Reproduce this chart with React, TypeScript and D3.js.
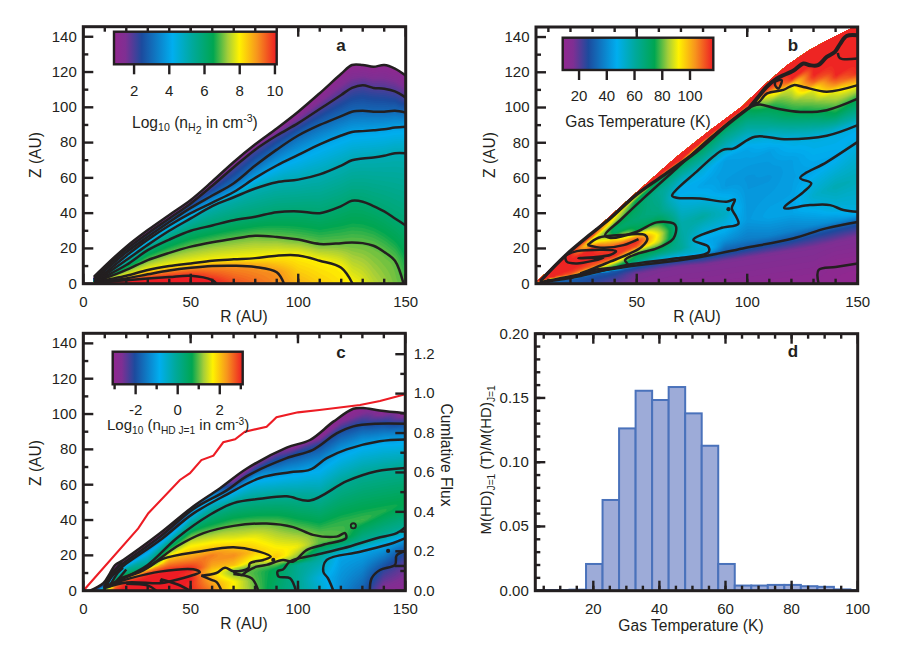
import { useEffect, useRef } from "react"
import * as d3 from "d3"

type Knot = [number, number]

const rainbowStops = [0, 0.07, 0.17, 0.36, 0.48, 0.61, 0.7, 0.77, 0.88, 1]
const rainbowColors = ["#92278f", "#7f2f93", "#1c4b9e", "#00aeef", "#00a99d", "#00a651", "#a6ce39", "#fff200", "#f7941d", "#ed1c24"]

// panel a: contour heights Z per radius, one row per level (null = contour has hit the midplane)
const aRadii = [5, 10, 20, 30, 40, 50, 60, 70, 80, 90, 100, 110, 120, 125, 130, 135, 140, 145, 150]
const aLevels = [1, 2, 3, 4, 5, 6, 7, 8, 9, 10]
const aHeights: (number | null)[][] = [
  [4, 10, 21, 30.4, 39, 47.5, 58, 69, 79, 88, 97.5, 108, 119, 124, 124, 123, 124, 122, 118],
  [3.5, 9, 19.5, 28.5, 37, 45.5, 55.5, 66, 76, 84, 91, 99, 107, 111, 112.5, 111, 110.5, 109, 105.5],
  [2.6, 7.5, 17.8, 26.6, 35, 43, 50, 57, 67, 76, 84, 90, 95, 97.5, 98, 97.5, 97.5, 98, 97],
  [1.8, 6, 15.9, 25, 33, 40, 46, 52, 60, 67, 73, 79, 84, 86, 86.5, 87, 87.5, 88.5, 89],
  [1.3, 5, 13.4, 22, 30, 37, 44, 49, 54, 57.5, 59, 62, 67, 70, 71, 71.5, 72.5, 74, 74],
  [1, 4, 10.6, 19, 25, 30, 33, 36, 38, 40.5, 41, 40, 44, 47, 46.5, 44, 41, 37, 33],
  [0.8, 3, 7.8, 13.4, 17.5, 21, 23.5, 25.5, 27.2, 26.5, 25, 22.5, 23, 23.4, 23, 21.5, 18, 13, null],
  [0.5, 2, 4.5, 7.8, 10, 11.5, 13, 13.8, 14.5, 15.9, 16, 13, 9, null, null, null, null, null, null],
  [0.4, 1.5, 3, 5.3, 7.5, 9, 10, 10.2, 9.5, 6.5, null, null, null, null, null, null, null, null, null],
  [0.2, 0.8, 2, 3, 3.8, 4.5, 2, null, null, null, null, null, null, null, null, null, null, null, null],
]
const aEndRadii = [null, null, null, null, null, null, 149, 125.3, 93.4, 62]
const aMidplane = [10, 10.6, 10.8, 10.8, 10.7, 10.6, 10.2, 9.7, 9.4, 9.1, 8.7, 8.4, 8.15, 8, 7.8, 7.5, 7.3, 7.1, 6.95]

// panel b: temperature profiles, [Z, T] per radius
const bRadii = [5, 10, 20, 30, 40, 50, 60, 70, 80, 90, 100, 110, 120, 130, 140, 150]
const bProfiles: Knot[][] = [
  [[0, 36], [1, 116], [5, 116]],
  [[0, 38], [1.5, 30], [2, 70], [3, 116], [12, 116]],
  [[0, 30], [3, 30], [3.5, 60], [4, 90], [5, 110], [8, 116], [22, 116]],
  [[0, 24], [5.5, 30], [6, 50], [7, 80], [8, 92], [10, 110], [14, 116], [20, 116], [22, 100], [24, 90], [26, 95], [27, 110], [29, 116], [34, 116]],
  [[0, 18], [7.4, 30], [8, 50], [9, 72], [11.5, 85], [13, 100], [16, 116], [21, 112], [25, 95], [27.6, 76], [30, 70], [33, 75], [36, 88], [38, 92], [39, 100], [40, 116], [46, 116]],
  [[0, 15], [6, 17], [10, 30], [11, 50], [13, 68], [17, 75], [19, 90], [21, 110], [24, 116], [27, 100], [29.5, 75], [36, 68], [45, 72], [48, 75], [50, 90], [51, 116], [60, 116]],
  [[0, 14], [8, 16], [12.5, 30], [13.5, 50], [17, 65], [20, 75], [24, 88], [28, 90], [35, 75], [40, 66], [52, 62], [59, 72], [60, 90], [61, 116], [72, 116]],
  [[0, 13], [10, 16], [14, 30], [15.5, 50], [20, 62], [27, 60], [35, 58], [48, 50], [52, 46], [56, 50], [65, 65], [68, 75], [69, 92], [70, 116], [84, 116]],
  [[0, 12.5], [11, 16], [15.5, 30], [17.5, 50], [19.5, 54], [21, 50], [24, 46], [28.5, 50], [38, 60], [48, 50], [56, 45], [64, 50], [75, 68], [79, 75], [80, 92], [81, 116], [95, 116]],
  [[0, 12], [13, 16], [18, 30], [25, 42], [33, 50], [40, 55], [46.5, 50], [55, 43], [70, 44], [74, 50], [85, 65], [89, 74], [90, 95], [91, 116], [105, 116]],
  [[0, 11.5], [15, 16], [20.5, 30], [25, 37], [36, 43], [60, 42], [76, 45], [81, 50], [90, 62], [99, 74], [100, 100], [101, 116], [116, 116]],
  [[0, 11], [17, 16], [23, 30], [27, 38], [38, 45], [60, 42], [75, 44], [82.5, 50], [90, 62], [100, 75], [107, 90], [109, 105], [112, 116], [128, 116]],
  [[0, 10.5], [19, 16], [25.5, 30], [30, 38], [40, 45], [55, 44], [70, 44], [82, 50], [97.5, 75], [112, 90], [116, 116], [140, 116]],
  [[0, 10], [21, 16], [29, 30], [33, 40], [44.5, 50], [50, 53], [57, 50], [65, 45], [83, 50], [97.5, 75], [110, 90], [114, 108], [118, 116], [150, 116]],
  [[0, 9.5], [10, 10], [24, 16], [32, 30], [35, 40], [42, 50], [55, 57], [66, 50], [72, 46], [86, 50], [97, 75], [109, 90], [113, 105], [118, 116], [150, 116]],
  [[0, 9], [11.5, 10], [27, 16], [35, 30], [39, 45], [41, 50], [60, 56], [80.5, 50], [85, 47], [90, 50], [95, 60], [105, 75], [112.7, 92], [116, 105], [120, 116], [150, 116]],
]
const bEdge: Knot[] = [[4.4, 0], [4.4, 1], [15.3, 13.4], [26.6, 25.7], [50, 52], [68, 72], [83, 87], [98, 101], [107, 112], [118, 124], [128, 132.5], [136, 138], [148, 145.6], [150, 146]]
const bLines: Knot[][] = [
  [[6, 0.7], [27.4, 5.9], [45.5, 9.6], [75.6, 14.4], [98, 20], [120.7, 25.7], [135.7, 31.4], [150, 35]],
  [[132.3, 0], [132.3, 7.8], [140, 9.5], [150, 11.5]],
  [[150, 90], [136, 84], [118, 82], [103.5, 83.4], [93.7, 76.7], [89, 76], [77, 63.5], [66, 50], [68, 48.8], [78.6, 48.4], [90.7, 46.5], [94.4, 47.8], [93, 42.7], [95, 38], [96, 34], [87.7, 31.4], [75.6, 24.8], [82.4, 21], [82.4, 17.8], [68, 14.4], [45.5, 10.6], [22.8, 4], [8, 1]],
  [[150, 80.5], [136, 69], [124, 60], [129, 57], [125.4, 52], [116.7, 43], [128.4, 44.6], [137.5, 44.6], [143.5, 41.8], [150, 40.8]],
  [[150, 105], [136, 98.5], [124, 97.5], [113.3, 99.4], [105.8, 101.7], [102.8, 101], [98, 97.5], [83, 82.4], [68, 65.4], [53, 48.4], [42.5, 36], [35.7, 27.6], [38, 26], [50, 29.5], [59, 34.8], [66.6, 34.2], [67.8, 32.3], [66.6, 25.7], [59, 20], [50.7, 17.2], [44.7, 13.4], [46, 10.6], [30.4, 7.8], [19.8, 3]],
  [[150, 112.7], [136, 109], [125.4, 111.7], [121, 112.7], [116.4, 110], [109, 108], [105, 102.8], [102.8, 102]],
  [[27.7, 21.9], [32.7, 26.1], [42.5, 27.6], [53.8, 27.6], [54.8, 25.3], [52.3, 21], [47, 17.2], [37.9, 12.5], [30.4, 8.7], [24.4, 5.9]],
  [[27.7, 21.9], [34.9, 20.4], [44, 21.9], [50.8, 25.3]],
  [[17.6, 15.9], [22.9, 18.5], [40.6, 18.5], [37.9, 16.3], [23.6, 14.4], [34.9, 14.7], [22.9, 11.5], [18.3, 12.5], [17.6, 15.9]],
  [[112.6, 114.6], [114.1, 115.5], [115.6, 115.5], [114.1, 110.8], [112.6, 112.7], [112.6, 114.6]],
  [[141, 131], [142, 128], [150, 127.8]],
]
const bThickUpper: Knot[] = [[150, 141], [145, 140.6], [142, 136], [139.7, 131.6], [136, 128.7], [132, 124], [128.4, 124], [125.4, 125], [121, 121], [113.3, 116.4], [108.8, 111.7], [105, 106], [101.3, 100.4]]
const bThickLower: Knot[] = [[101.3, 100.4], [90.7, 90], [77, 75], [65, 64], [50, 50.7], [37.9, 37], [27.7, 26.7], [17.6, 15.9], [6.3, 1.5]]
const bDots: Knot[] = [[91.5, 42.3]]

// panel c: log density profiles, [Z, value] per radius
const cRadii = [5, 10, 15, 20, 30, 40, 50, 60, 70, 80, 90, 100, 110, 120, 130, 140, 150]
const cProfiles: Knot[][] = [
  [[0, -3], [2, -3]],
  [[0, 2], [2, -1], [5, -3], [10, -3]],
  [[0, 3], [3, 2.5], [5, 1.5], [6, 0.5], [8, 0], [10, -2], [15, -3], [20, -3]],
  [[0, 3.3], [4.7, 3], [7.5, 2], [8.5, 1], [9.3, 0.5], [12, 0], [14.5, -1], [16.5, -2], [18, -3], [24, -3]],
  [[0, 3.3], [9.5, 3], [12, 2], [12.5, 1], [14.6, 0], [19, -0.5], [22, -1], [24.5, -2], [26, -3], [36, -3]],
  [[0, 3.3], [11, 3.1], [18.4, 2], [22.5, 1], [27, 0], [31.5, -1], [33.5, -2], [35.4, -3], [46, -3]],
  [[0, 3], [4, 3], [7, 3.1], [9.8, 2.9], [12, 3.1], [16, 2.6], [21.6, 2], [27, 1.5], [31, 1], [37.5, 0], [43.5, -1], [46, -2], [47.5, -3], [60, -3]],
  [[0, 2.5], [5, 2.2], [8, 2], [11, 1.9], [14, 2.2], [20, 2.5], [24, 2], [29, 1.5], [34, 1], [45, 0], [53, -1], [56, -2], [60, -3], [70, -3]],
  [[0, 1.65], [5, 1.7], [9, 1.2], [11, 1], [13, 1.5], [14, 2], [20, 2.4], [24.6, 2], [30, 1.5], [37, 1], [49.6, 0], [56.5, -1], [59, -2], [64, -3], [74, -3]],
  [[0, 1.05], [10, 0.9], [13.5, 1], [17, 1.5], [22, 2], [30, 1.6], [38, 1], [52, 0], [63.5, -1], [68, -2], [73, -3], [84, -3]],
  [[0, 0.4], [12, 0.6], [15, 1], [19, 2], [22, 1.8], [38, 1], [53, 0], [65, -1], [74, -2], [80, -3], [92, -3]],
  [[0, -0.05], [15, 0], [17.5, 1], [25, 1.6], [35, 1], [42, 0.6], [53, 0], [67, -1], [78, -2], [83, -3], [96, -3]],
  [[0, -0.5], [7, -0.7], [20.5, 0], [27, 1], [32, 1], [40, 0.6], [52, 0], [70, -1], [82, -2], [88, -3], [100, -3]],
  [[0, -1.3], [19, -1], [24.5, 0], [30, 1], [40, 0.8], [60, 0], [78, -1], [90, -2], [98, -3], [110, -3]],
  [[0, -1.8], [22, -1], [28, 0], [40, 0.9], [65, 0], [83, -1], [94, -2], [103.4, -3], [116, -3]],
  [[0, -2.8], [11, -2.2], [25, -1], [32, 0], [45, 0.8], [67.5, 0], [85, -1], [94.5, -2], [102, -3], [116, -3]],
  [[0, -2.9], [14, -2.5], [22.5, -2], [29.7, -1], [36, 0], [50, 0.7], [69.5, 0], [85.6, -1], [94.5, -2], [100.5, -3], [116, -3]],
]
const cEdge: Knot[] = [[3.1, 0], [9.3, 4.2], [12.4, 9.8], [14.8, 14.5], [18.6, 17.4], [35.7, 32.5], [51, 47.5], [63.7, 58], [76, 69], [94.7, 81], [105.6, 85.3], [116.5, 95.7], [125.8, 103], [130.4, 103.4], [138, 102], [150, 100.5]]
const cLines: Knot[][] = [
  cEdge,
  [[150, 94.5], [136.6, 94.5], [125.8, 93], [118, 89], [107, 79.7], [94.7, 75], [76, 64.7], [66.8, 56.8], [51, 46], [35.7, 30.5], [18.6, 15.5], [14, 11], [10, 4]],
  [[150, 85.6], [138, 84.6], [122.7, 80], [113.4, 75], [105.6, 68.5], [96.3, 67], [82.3, 63.8], [66.8, 54.4], [51, 43.5], [35.7, 28.5], [18.6, 14], [14, 9], [10, 3]],
  [[150, 69.5], [136.6, 67.6], [122.7, 62], [105.6, 51], [94.7, 53.4], [82.3, 52], [70, 49.6], [59, 43], [43.5, 29.7], [30, 14.6], [18.6, 7], [13, 4]],
  [[10.5, 2], [15, 12], [18, 16]],
  [[12, 2], [16, 10], [18.5, 13]],
  [[14, 3.5], [18, 9], [20, 12]],
  [[17, 7], [29.5, 13], [43.5, 25], [56, 32.6], [70, 36.7], [85.4, 38], [97.8, 36], [107, 31.6], [118, 30.6], [121.9, 32.6], [122.4, 29.7], [111.8, 26], [104, 23], [97.8, 16.5], [93, 17.4], [85.4, 14.6], [80.7, 13.6], [76, 10.8], [73.8, 8.9], [69.9, 10.8]],
  [[69.9, 9.5], [78.4, 7], [81.5, 0]],
  [[17, 6.5], [28, 11.5], [37, 18], [54.3, 22.2], [70, 24.6], [82.3, 22], [87.3, 19.3], [83.9, 17.4], [77.6, 15.5], [76.9, 12.7], [70, 11], [66, 13], [62, 10], [55, 8.5]],
  [[55, 8.5], [60, 6], [62, 5], [64.4, 0]],
  [[9.3, 2.3], [21.7, 7], [35.7, 10.8], [51.2, 12.1], [54.3, 10.4], [51.2, 8.9], [41.1, 5.5], [35.7, 4.2], [20.2, 4.7], [9.3, 1.3]],
  [[20, 4], [30, 3], [34, 0]],
  [[36, 6.5], [44, 3.5], [49.7, 0]],
  [[150, 36], [146, 32.6], [136.6, 29.7], [121, 24], [107, 20], [96.3, 16.5], [93, 12], [90.5, 11], [91, 8], [96.3, 7], [99, 0]],
  [[150, 29.7], [144.4, 27], [129, 22], [113.4, 17.4], [111.8, 10.8], [114, 7], [116.5, 0]],
  [[150, 22.5], [146, 20], [145.2, 14.6], [138.2, 11.7], [134.3, 7], [133.5, 0]],
  [[145, 14], [150, 14]],
]
const cDots: Knot[] = [[88.5, 17.4], [142, 22.5], [36.5, 5.5]]
const cRing: Knot = [125.8, 36.7]

// cumulative flux curve in panel c
const fluxRadii = [0, 25.6, 30.3, 45, 49.7, 55, 60.6, 65.2, 70.7, 75.3, 85.4, 90, 100, 110, 128.9, 138.2, 150]
const fluxValues = [0, 0.316, 0.393, 0.562, 0.596, 0.663, 0.685, 0.753, 0.768, 0.807, 0.832, 0.88, 0.905, 0.917, 0.942, 0.962, 0.997]

// panel d histogram
const binStarts = [2.8, 7.8, 12.8, 17.8, 22.8, 27.8, 32.8, 37.8, 42.8, 47.8, 52.8, 57.8, 62.8, 67.8, 72.8, 77.8, 82.8, 87.8, 92.8, 97.8]
const binValues = [0.0005, 0.0005, 0.0008, 0.0208, 0.0706, 0.1263, 0.1556, 0.1484, 0.1585, 0.138, 0.1128, 0.0208, 0.004, 0.004, 0.0045, 0.0045, 0.0035, 0.003, 0.001, 0.0005]

const FONT = "'Liberation Sans', Arial, sans-serif"
const INK = "#231f20"
const FS = 15
const LABEL_FS = 15.6

const range = (a: number, b: number, step: number) => d3.range(a, b + step / 1000, step)
const plain = (v: any) => String(v)

function colorScale(domain: [number, number]) {
  const span = domain[1] - domain[0]
  return d3
    .scaleLinear<string>()
    .domain(rainbowStops.map((s) => domain[0] + s * span))
    .range(rainbowColors)
    .clamp(true)
}

function makeField(radii: number[], profiles: Knot[][]) {
  const scales = profiles.map((p) =>
    d3
      .scaleLinear()
      .domain(p.map((k) => k[0]))
      .range(p.map((k) => k[1]))
      .clamp(true),
  )
  // columns are blended along rays Z/R so the wedge structure stays sharp near the star
  return (r: number, z: number) => {
    const rr = Math.max(r, 0.5)
    const t = z / rr
    if (rr <= radii[0]) return scales[0](t * radii[0])
    const i = Math.min(d3.bisectRight(radii, rr) - 1, radii.length - 2)
    const f = (rr - radii[i]) / (radii[i + 1] - radii[i])
    return scales[i](t * radii[i]) * (1 - f) + scales[i + 1](t * radii[i + 1]) * f
  }
}

function drawField(
  g: any,
  id: string,
  x: d3.ScaleLinear<number, number>,
  y: d3.ScaleLinear<number, number>,
  field: (r: number, z: number) => number,
  domain: [number, number],
  edge: Knot[],
) {
  const step = 2
  const [x0, x1] = x.range()
  const [y1, y0] = y.range()
  const n = Math.ceil((x1 - x0) / step) + 2
  const m = Math.ceil((y1 - y0) / step) + 2
  const values = new Array(n * m)
  for (let j = 0; j < m; j++) {
    for (let i = 0; i < n; i++) {
      values[j * n + i] = field(x.invert(x0 + i * step), y.invert(y0 + j * step))
    }
  }
  const color = colorScale(domain)
  const count = 110
  const levels = d3.range(0, count).map((k) => domain[0] + ((k + 0.5) / count) * (domain[1] - domain[0]))
  const contours = d3.contours().size([n, m]).thresholds(levels)(values)
  const path = d3.geoPath(
    d3.geoTransform({
      point(px, py) {
        this.stream.point(x0 + (px - 0.5) * step, y0 + (py - 0.5) * step)
      },
    }),
  )

  const last = edge[edge.length - 1]
  const outline: Knot[] = [[edge[0][0], 0], ...edge, [last[0], 0]]
  g.append("clipPath")
    .attr("id", id)
    .append("polygon")
    .attr("points", outline.map((p) => `${x(p[0])},${y(p[1])}`).join(" "))

  const layer = g.append("g").attr("clip-path", `url(#${id})`)
  layer.append("rect").attr("x", x0).attr("y", y0).attr("width", x1 - x0).attr("height", y1 - y0).attr("fill", color(domain[0]))
  layer
    .selectAll("path")
    .data(contours)
    .enter()
    .append("path")
    .attr("d", (d: any) => path(d))
    .attr("fill", (d: any) => color(d.value + (domain[1] - domain[0]) / (2 * count)))
}

function drawLines(g: any, x: any, y: any, lines: Knot[][], width = 2.5) {
  const line = d3
    .line<Knot>()
    .x((d) => x(d[0]))
    .y((d) => y(d[1]))
    .curve(d3.curveCatmullRom.alpha(0.5))
  g.selectAll(null)
    .data(lines)
    .enter()
    .append("path")
    .attr("d", (d: Knot[]) => line(d))
    .attr("fill", "none")
    .attr("stroke", INK)
    .attr("stroke-width", width)
    .attr("stroke-linejoin", "round")
}

function styleAxis(sel: any) {
  sel.select(".domain").remove()
  sel.selectAll("line").attr("stroke", INK).attr("stroke-width", 2.4)
  sel.selectAll("text").attr("font-size", FS).attr("font-family", FONT).attr("fill", INK)
}

function drawFrame(g: any, x: any, y: any, xMajor: number[], xMinor: number[], yMajor: number[], yMinor: number[], yFormat: any) {
  const [x0, x1] = x.range()
  const [y1, y0] = y.range()
  const add = (tr: string, axis: any) => g.append("g").attr("transform", tr).call(axis).call(styleAxis)
  add(`translate(0,${y1})`, d3.axisBottom(x).tickValues(xMajor).tickSize(-10).tickPadding(12.3).tickFormat(plain).offset(0))
  add(`translate(0,${y1})`, d3.axisBottom(x).tickValues(xMinor).tickSize(-5).tickFormat(() => "").offset(0))
  add(`translate(0,${y0})`, d3.axisTop(x).tickValues(xMajor).tickSize(-10).tickFormat(() => "").offset(0))
  add(`translate(0,${y0})`, d3.axisTop(x).tickValues(xMinor).tickSize(-5).tickFormat(() => "").offset(0))
  add(`translate(${x0},0)`, d3.axisLeft(y).tickValues(yMajor).tickSize(-10).tickPadding(6.5).tickFormat(yFormat).offset(0))
  add(`translate(${x0},0)`, d3.axisLeft(y).tickValues(yMinor).tickSize(-5).tickFormat(() => "").offset(0))
  g.append("rect")
    .attr("x", x0)
    .attr("y", y0)
    .attr("width", x1 - x0)
    .attr("height", y1 - y0)
    .attr("fill", "none")
    .attr("stroke", INK)
    .attr("stroke-width", 3)
}

function drawRightTicks(g: any, x1: number, y: any, major: number[], minor: number[], format: any) {
  const fmt = format ?? (() => "")
  g.append("g").attr("transform", `translate(${x1},0)`).call(d3.axisRight(y).tickValues(major).tickSize(-10).tickPadding(8.5).tickFormat(fmt).offset(0)).call(styleAxis)
  g.append("g").attr("transform", `translate(${x1},0)`).call(d3.axisRight(y).tickValues(minor).tickSize(-5).tickFormat(() => "").offset(0)).call(styleAxis)
}

function label(g: any, x: number, y: number, txt: string, rotate = 0, weight = "normal", size = LABEL_FS) {
  return g
    .append("text")
    .attr("transform", `translate(${x},${y}) rotate(${rotate})`)
    .attr("text-anchor", "middle")
    .attr("font-family", FONT)
    .attr("font-size", size)
    .attr("font-weight", weight)
    .attr("fill", INK)
    .text(txt)
}

// text made of [string, baseline shift] runs, shift in px
function richLabel(g: any, transform: string, anchor: string, runs: [string, number][], size = LABEL_FS) {
  const t = g.append("text").attr("transform", transform).attr("text-anchor", anchor).attr("font-family", FONT).attr("font-size", size).attr("fill", INK)
  let prev = 0
  runs.forEach(([s, shift]) => {
    t.append("tspan")
      .attr("dy", shift - prev)
      .attr("font-size", shift === 0 ? size : size * 0.68)
      .text(s)
    prev = shift
  })
  return t
}

function drawColorbar(g: any, id: string, box: [number, number, number, number], domain: [number, number], major: number[], minor: number[], baseline: number) {
  const [bx0, bx1, by0, by1] = box
  const grad = g.append("linearGradient").attr("id", id)
  rainbowStops.forEach((s, i) => grad.append("stop").attr("offset", s).attr("stop-color", rainbowColors[i]))
  g.append("rect").attr("x", bx0).attr("y", by0).attr("width", bx1 - bx0).attr("height", by1 - by0).attr("fill", `url(#${id})`)
  const s = d3.scaleLinear().domain(domain).range([bx0, bx1])
  const ax = g.append("g").attr("transform", `translate(0,${by1})`)
  ax.call(d3.axisBottom(s).tickValues(major).tickSize(10).tickPadding(baseline - by1 - 10 - 10.6).tickFormat(plain).offset(0)).call(styleAxis)
  if (minor.length) {
    g.append("g").attr("transform", `translate(0,${by1})`).call(d3.axisBottom(s).tickValues(minor).tickSize(5).tickFormat(() => "").offset(0)).call(styleAxis)
  }
  g.append("rect").attr("x", bx0).attr("y", by0).attr("width", bx1 - bx0).attr("height", by1 - by0).attr("fill", "none").attr("stroke", INK).attr("stroke-width", 2.4)
}

function dots(g: any, x: any, y: any, pts: Knot[]) {
  g.selectAll(null).data(pts).enter().append("circle").attr("cx", (d: Knot) => x(d[0])).attr("cy", (d: Knot) => y(d[1])).attr("r", 2.1).attr("fill", INK)
}

export default function App() {
  const svgRef = useRef<SVGSVGElement | null>(null)

  useEffect(() => {
    if (!svgRef.current) return
    const svg = d3.select(svgRef.current)
    svg.selectAll("*").remove()

    const rMajor = [0, 50, 100, 150]
    const rMinor = range(10, 140, 10)
    const zMajor = range(0, 140, 20)
    const zMinor = range(10, 130, 20)

    // panel a
    const aX = d3.scaleLinear().domain([0, 150]).range([83.3, 405.7])
    const aY = d3.scaleLinear().domain([0, 145.7]).range([283.7, 26.7])
    const aProfiles: Knot[][] = aRadii.map((_, i) => {
      const knots: Knot[] = [[0, aMidplane[i]]]
      for (let l = aLevels.length - 1; l >= 0; l--) {
        const z = aHeights[l][i]
        if (z !== null) knots.push([z, aLevels[l]])
      }
      knots.push([(aHeights[0][i] as number) + 30, 0.9])
      return knots
    })
    const aLines: Knot[][] = aHeights.map((row, l) => {
      const pts: Knot[] = []
      row.forEach((z, i) => {
        if (z !== null) pts.push([aRadii[i], z])
      })
      const end = aEndRadii[l]
      if (end !== null) pts.push([end, 0])
      return pts
    })
    const aEdge: Knot[] = [[4.4, 0], ...aLines[0]]
    const a = svg.append("g")
    drawField(a, "clipA", aX, aY, makeField(aRadii, aProfiles), [0.9, 10.1], aEdge)
    drawLines(a, aX, aY, aLines)
    drawFrame(a, aX, aY, rMajor, rMinor, zMajor, zMinor, plain)
    drawColorbar(a, "gradA", [114, 276.7, 31.7, 64.3], [0.86, 10.1], [2, 4, 6, 8, 10], [], 95.5)
    richLabel(a, "translate(132,127.7)", "start", [["Log", 0], ["10", 3.5], [" (n", 0], ["H", 3.5], ["2", 6.5], [" in cm", 0], ["-3", -6], [")", 0]])
    label(a, 341, 50.7, "a", 0, "bold", 17)
    label(a, 244, 322, "R (AU)")
    label(a, 41, 155, "Z (AU)", -90)

    // panel b
    const bX = d3.scaleLinear().domain([4.4, 150]).range([536, 857.7])
    const bY = d3.scaleLinear().domain([0, 145.7]).range([283.7, 27])
    const b = svg.append("g")
    drawField(b, "clipB", bX, bY, makeField(bRadii, bProfiles), [8.2, 116.8], bEdge)
    drawLines(b, bX, bY, bLines)
    drawLines(b, bX, bY, [bThickUpper], 4)
    drawLines(b, bX, bY, [bThickLower], 3.4)
    dots(b, bX, bY, bDots)
    const bFrame = b.append("g")
    drawFrame(bFrame, bX, bY, [50, 100, 150], range(10, 140, 10), zMajor, zMinor, plain)
    drawColorbar(b, "gradB", [562.7, 713.3, 37.7, 70], [8.2, 116.8], [20, 40, 60, 80, 100], [], 101)
    label(b, 638, 126.7, "Gas Temperature (K)")
    label(b, 793, 50.7, "b", 0, "bold", 17)
    label(b, 697, 322, "R (AU)")
    label(b, 495, 155, "Z (AU)", -90)

    // panel c
    const cX = d3.scaleLinear().domain([0, 150]).range([83.3, 405.3])
    const cY = d3.scaleLinear().domain([0, 145.7]).range([590.7, 333.3])
    const fluxY = d3.scaleLinear().domain([0, 1.306]).range([590.7, 333.3])
    const c = svg.append("g")
    drawField(c, "clipC", cX, cY, makeField(cRadii, cProfiles), [-3.09, 3.09], cEdge)
    drawLines(c, cX, cY, cLines)
    dots(c, cX, cY, cDots)
    c.append("circle").attr("cx", cX(cRing[0])).attr("cy", cY(cRing[1])).attr("r", 2.6).attr("fill", "none").attr("stroke", INK).attr("stroke-width", 1.8)
    c.append("path")
      .attr("d", d3.line<number>().x((d) => cX(d)).y((_, i) => fluxY(fluxValues[i]))(fluxRadii))
      .attr("fill", "none")
      .attr("stroke", "#ed1c24")
      .attr("stroke-width", 2.1)
    drawFrame(c, cX, cY, rMajor, rMinor, zMajor, zMinor, plain)
    drawRightTicks(c, 405.3, fluxY, range(0, 1.2, 0.2), range(0.1, 1.1, 0.2), d3.format(".1f"))
    drawColorbar(c, "gradC", [112.7, 242.7, 351.7, 384.3], [-3.09, 3.09], [-2, 0, 2], [-3, -1, 1, 3], 414.5)
    richLabel(c, "translate(107,430)", "start", [["Log", 0], ["10", 3.5], [" (n", 0], ["HD J=1", 3.5], [" in cm", 0], ["-3", -5], [")", 0]], 15)
    label(c, 341, 357.5, "c", 0, "bold", 17)
    label(c, 244, 629, "R (AU)")
    label(c, 41, 463, "Z (AU)", -90)
    label(c, 441, 455, "Cumlative Flux", 90)

    // panel d
    const dX = d3.scaleLinear().domain([2.45, 100]).range([535.3, 857.7])
    const dY = d3.scaleLinear().domain([0, 0.2]).range([590.7, 333.7])
    const d = svg.append("g")
    d.append("clipPath").attr("id", "clipD").append("rect").attr("x", 535.3).attr("y", 333.7).attr("width", 322.4).attr("height", 257)
    d.append("g")
      .attr("clip-path", "url(#clipD)")
      .selectAll("rect")
      .data(binValues)
      .enter()
      .append("rect")
      .attr("x", (_, i) => dX(binStarts[i]))
      .attr("y", (v) => dY(v))
      .attr("width", (_, i) => dX(binStarts[i] + 5) - dX(binStarts[i]))
      .attr("height", (v) => dY(0) - dY(v))
      .attr("fill", "#9dabd8")
      .attr("stroke", "#4a72bb")
      .attr("stroke-width", 2)
    drawFrame(d, dX, dY, [20, 40, 60, 80, 100], range(5, 95, 5), range(0, 0.2, 0.05), range(0.01, 0.19, 0.01), d3.format(".2f"))
    label(d, 793, 357, "d", 0, "bold", 17)
    label(d, 691, 631, "Gas Temperature (K)")
    richLabel(d, "translate(491,460) rotate(-90)", "middle", [["M(HD)", 0], ["J=1", 3.5], [" (T)/M(HD)", 0], ["J=1", 3.5]], 15)
  }, [])

  return <svg ref={svgRef} width={899} height={654} style={{ position: "absolute", left: 0, top: 0, background: "#fff" }}></svg>
}
